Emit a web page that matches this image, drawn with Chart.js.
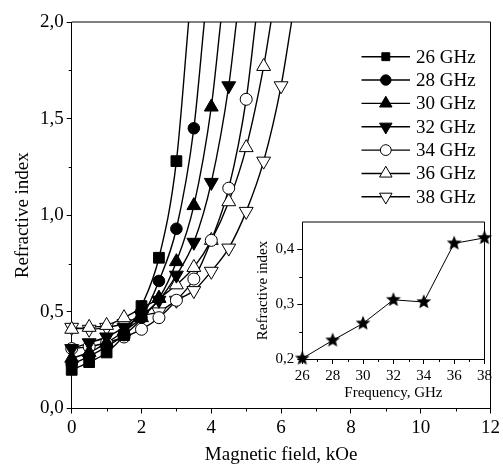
<!DOCTYPE html>
<html>
<head>
<meta charset="utf-8">
<script src="https://cdn.jsdelivr.net/npm/chart.js@4.4.0/dist/chart.umd.min.js"></script>
<style>
  html, body { margin: 0; padding: 0; background: #fff; }
  #wrap { position: relative; width: 503px; height: 466px; }
  #mainBox { position: absolute; left: 0; top: 0; }
  #insetBox { position: absolute; left: 240px; top: 210px; }
</style>
</head>
<body>
<div id="wrap">
  <div id="mainBox"><canvas id="mainChart" width="503" height="466"></canvas></div>
  <div id="insetBox"><canvas id="insetChart" width="255" height="195"></canvas></div>
</div>
<script>
// Campo magnético (kOe) dos pontos medidos
const field = [0, 0.5, 1, 1.5, 2, 2.5, 3, 3.5, 4, 4.5, 5, 5.5, 6];

// Índice de refração para cada frequência
const n26 = [0.20, 0.24, 0.29, 0.38, 0.53, 0.78, 1.28];
const n28 = [0.23, 0.27, 0.32, 0.38, 0.47, 0.66, 0.93, 1.45];
const n30 = [0.26, 0.29, 0.34, 0.40, 0.47, 0.57, 0.76, 1.05, 1.56];
const n32 = [0.31, 0.34, 0.37, 0.42, 0.48, 0.56, 0.69, 0.86, 1.17, 1.67];
const n34 = [0.31, 0.32, 0.34, 0.37, 0.41, 0.47, 0.56, 0.67, 0.87, 1.14, 1.60];
const n36 = [0.41, 0.42, 0.43, 0.47, 0.52, 0.57, 0.64, 0.73, 0.87, 1.07, 1.35, 1.77];
const n38 = [0.42, 0.41, 0.42, 0.44, 0.48, 0.50, 0.56, 0.61, 0.71, 0.83, 1.02, 1.28, 1.67];

// Onde cada curva ajustada cruza o topo do gráfico (n = 2,0)
const fitTop = [3.35, 3.80, 4.27, 4.72, 5.27, 5.71, 6.30];

const seriesLabels = ['26 GHz', '28 GHz', '30 GHz', '32 GHz', '34 GHz', '36 GHz', '38 GHz'];

// Inset: índice de refração em H = 0
const insetFreq = [26, 28, 30, 32, 34, 36, 38];
const insetIndex = [0.201, 0.234, 0.265, 0.308, 0.304, 0.411, 0.421];

const serif = "'Liberation Serif', 'Times New Roman', serif";
const allSeries = [n26, n28, n30, n32, n34, n36, n38];

// Estilo dos marcadores
const markers = [
    { kind: 'rect', style: 'rect', rot: 0, r: 7.6, fill: '#000' },
    { kind: 'circle', style: 'circle', rot: 0, r: 5.8, fill: '#000' },
    { kind: 'up', style: 'triangle', rot: 0, r: 8, fill: '#000' },
    { kind: 'down', style: 'triangle', rot: 180, r: 8, fill: '#000' },
    { kind: 'circle', style: 'circle', rot: 0, r: 6, fill: '#fff' },
    { kind: 'up', style: 'triangle', rot: 0, r: 8, fill: '#fff' },
    { kind: 'down', style: 'triangle', rot: 180, r: 8, fill: '#fff' }
];

const comma = v => Number(v).toFixed(1).replace('.', ',');

function drawMarker(ctx, m, x, y, r) {
    ctx.beginPath();
    if (m.kind === 'rect') {
        const s = r * Math.SQRT1_2;
        ctx.rect(x - s, y - s, 2 * s, 2 * s);
    } else if (m.kind === 'circle') {
        ctx.arc(x, y, r, 0, 2 * Math.PI);
    } else {
        const d = m.kind === 'up' ? 1 : -1;
        const w = r * Math.sin(2 * Math.PI / 3);
        ctx.moveTo(x, y - d * r);
        ctx.lineTo(x + w, y + d * r / 2);
        ctx.lineTo(x - w, y + d * r / 2);
        ctx.closePath();
    }
    ctx.fillStyle = m.fill;
    ctx.fill();
    ctx.lineWidth = 1;
    ctx.strokeStyle = '#000';
    ctx.stroke();
}

// Moldura + ticks menores
const framePlugin = {
    id: 'frameTicks',
    afterDraw(chart, args, opts) {
        const { ctx, chartArea: a, scales } = chart;
        ctx.save();
        ctx.strokeStyle = '#000';
        ctx.lineWidth = 1;
        ctx.beginPath();
        ctx.moveTo(a.left, a.top);
        ctx.lineTo(a.right, a.top);
        ctx.lineTo(a.right, a.bottom);
        ctx.stroke();
        ctx.beginPath();
        (opts.xMinor || []).forEach(v => {
            const px = Math.round(scales.x.getPixelForValue(v)) + 0.5;
            ctx.moveTo(px, a.bottom);
            ctx.lineTo(px, a.bottom + 3);
        });
        (opts.yMinor || []).forEach(v => {
            const py = Math.round(scales.y.getPixelForValue(v)) + 0.5;
            ctx.moveTo(a.left, py);
            ctx.lineTo(a.left - 3, py);
        });
        ctx.stroke();
        ctx.restore();
    }
};

// Legenda desenhada dentro do gráfico
const legendPlugin = {
    id: 'innerLegend',
    afterDraw(chart, args, opts) {
        if (!opts.show) return;
        const ctx = chart.ctx;
        ctx.save();
        ctx.font = '19px ' + serif;
        ctx.textBaseline = 'middle';
        seriesLabels.forEach((label, i) => {
            const y = 56.7 + i * 23.35;
            ctx.beginPath();
            ctx.strokeStyle = '#000';
            ctx.lineWidth = 1.4;
            ctx.moveTo(361.5, y);
            ctx.lineTo(410, y);
            ctx.stroke();
            const m = markers[i];
            drawMarker(ctx, m, 385.8, y, m.kind === 'rect' ? 5.6 : m.r * 0.9);
            ctx.fillStyle = '#000';
            ctx.fillText(label, 416, y + 1);
        });
        ctx.restore();
    }
};

const lineSets = allSeries.map((arr, i) => ({
    label: seriesLabels[i] + ' fit',
    data: arr.map((v, k) => ({ x: field[k], y: v })).concat([{ x: fitTop[i], y: 2.0 }]),
    showLine: true,
    borderColor: '#000',
    borderWidth: 1.4,
    pointRadius: 0,
    cubicInterpolationMode: 'monotone',
    order: 1
}));

const markerSets = allSeries.map((arr, i) => ({
    label: seriesLabels[i],
    data: arr.map((v, k) => ({ x: field[k], y: v })),
    showLine: false,
    pointStyle: markers[i].style,
    rotation: markers[i].rot,
    pointRadius: markers[i].r,
    pointBackgroundColor: markers[i].fill,
    pointBorderColor: '#000',
    pointBorderWidth: 1,
    clip: false,
    order: 0
}));

const tickFont = { family: serif, size: 19 };

new Chart(document.getElementById('mainChart'), {
    type: 'scatter',
    data: { datasets: markerSets.concat(lineSets) },
    options: {
        responsive: false,
        animation: false,
        devicePixelRatio: 1,
        layout: { padding: { left: 12, top: 22, right: 8.5, bottom: 0 } },
        plugins: {
            legend: { display: false },
            tooltip: { enabled: false },
            frameTicks: { xMinor: [1, 3, 5, 7, 9, 11], yMinor: [0.25, 0.75, 1.25, 1.75] },
            innerLegend: { show: true }
        },
        scales: {
            x: {
                type: 'linear', min: 0, max: 12,
                ticks: { stepSize: 2, color: '#000', font: tickFont, padding: 3, maxRotation: 0 },
                grid: { drawOnChartArea: false, color: '#000', tickLength: 5 },
                border: { color: '#000', width: 1 },
                title: { display: true, text: 'Magnetic field, kOe', color: '#000', font: tickFont, padding: 0 },
                afterFit: s => { s.height = 57.5; }
            },
            y: {
                type: 'linear', min: 0, max: 2,
                ticks: { stepSize: 0.5, color: '#000', font: tickFont, padding: 3, callback: v => comma(v) },
                grid: { drawOnChartArea: false, color: '#000', tickLength: 5 },
                border: { color: '#000', width: 1 },
                title: { display: true, text: 'Refractive index', color: '#000', font: tickFont, padding: 0 },
                afterFit: s => { s.width = 59.7; }
            }
        }
    },
    plugins: [framePlugin, legendPlugin]
});

// Estrela preenchida para o inset
function makeStar(size, outer, inner) {
    const c = document.createElement('canvas');
    c.width = c.height = size;
    const g = c.getContext('2d');
    g.beginPath();
    for (let i = 0; i < 10; i++) {
        const r = i % 2 ? inner : outer;
        const a = -Math.PI / 2 + i * Math.PI / 5;
        g.lineTo(size / 2 + r * Math.cos(a), size / 2 + r * Math.sin(a));
    }
    g.closePath();
    g.fillStyle = '#000';
    g.fill();
    return c;
}

const insetFont = { family: serif, size: 15 };

new Chart(document.getElementById('insetChart'), {
    type: 'scatter',
    data: {
        datasets: [{
            data: insetFreq.map((f, i) => ({ x: f, y: insetIndex[i] })),
            showLine: true,
            borderColor: '#000',
            borderWidth: 1,
            pointStyle: makeStar(18, 7.8, 3.4),
            pointRadius: 8,
            clip: false
        }]
    },
    options: {
        responsive: false,
        animation: false,
        devicePixelRatio: 1,
        layout: { padding: { left: 14, top: 10.7, right: 9, bottom: 3 } },
        plugins: {
            legend: { display: false },
            tooltip: { enabled: false },
            frameTicks: { xMinor: [27, 29, 31, 33, 35, 37], yMinor: [0.25, 0.35] }
        },
        scales: {
            x: {
                type: 'linear', min: 26, max: 38,
                ticks: { stepSize: 2, color: '#000', font: insetFont, padding: 3, maxRotation: 0 },
                grid: { drawOnChartArea: false, color: '#000', tickLength: 5 },
                border: { color: '#000', width: 1 },
                title: { display: true, text: 'Frequency, GHz', color: '#000', font: insetFont, padding: 0 },
                afterFit: s => { s.height = 43; }
            },
            y: {
                type: 'linear', min: 0.2, max: 0.45,
                ticks: { stepSize: 0.1, color: '#000', font: insetFont, padding: 3, callback: v => comma(v) },
                afterBuildTicks: s => { s.ticks = s.ticks.filter(t => t.value < 0.44); },
                grid: { drawOnChartArea: false, color: '#000', tickLength: 5 },
                border: { color: '#000', width: 1 },
                title: { display: true, text: 'Refractive index', color: '#000', font: insetFont, padding: 0 },
                afterFit: s => { s.width = 48.3; }
            }
        }
    },
    plugins: [framePlugin]
});
</script>
</body>
</html>
